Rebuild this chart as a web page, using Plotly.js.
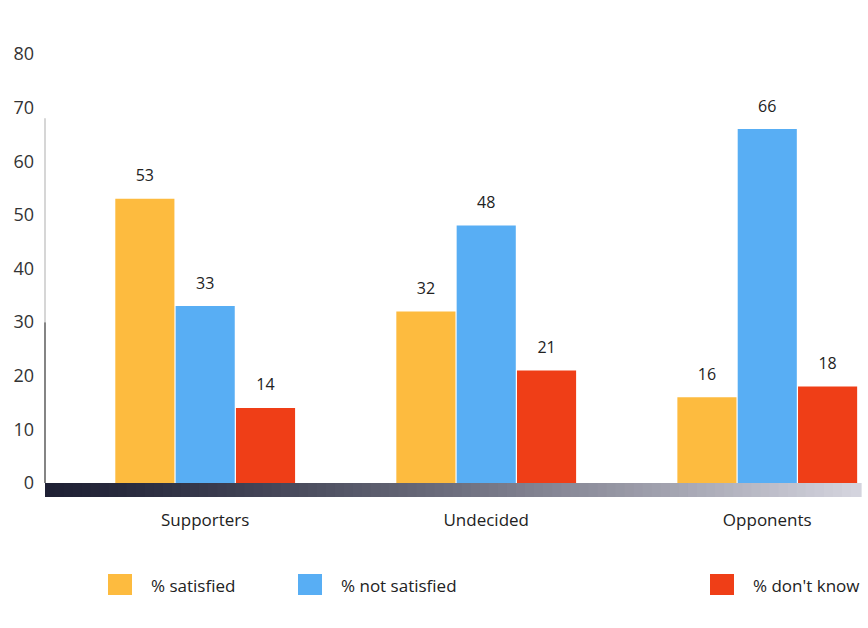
<!DOCTYPE html>
<html>
<head>
<meta charset="utf-8">
<script src="https://cdn.plot.ly/plotly-3.0.1.min.js"></script>
<style>html,body{margin:0;padding:0;background:#fff;}#chart{width:868px;height:628px;}</style>
</head>
<body>
<div id="chart"></div>
<script>
const categories = ['Supporters', 'Undecided', 'Opponents'];
const seriesNames = ['% satisfied', '% not satisfied', "% don't know"];
const satisfied = [53, 32, 16];
const notSatisfied = [33, 48, 66];
const dontKnow = [14, 21, 18];
const yTickValues = [0, 10, 20, 30, 40, 50, 60, 70, 80];

const colors = ['#FDBB3F', '#58AEF4', '#EF3E17'];
const seriesValues = [satisfied, notSatisfied, dontKnow];
const FONT = 'Open Sans, Noto Sans, sans-serif';

const W = 868, H = 628, ML = 45, MR = 8, MT = 54, MB = 145;
const PW = W - ML - MR, PH = H - MT - MB;
const px2x = p => (p - ML) / PW;
const px2y = p => (H - MB - p) / PH;

const traces = [];
seriesValues.forEach((vals, i) => {
  traces.push({
    type: 'bar', x: categories, y: vals, name: seriesNames[i],
    offsetgroup: String(i), alignmentgroup: 'a',
    marker: {color: colors[i]}, showlegend: false, hoverinfo: 'skip'
  });
});
seriesValues.forEach((vals, i) => {
  traces.push({
    type: 'scatter', mode: 'markers+text', x: categories, y: vals,
    text: vals.map(String), textposition: 'top center',
    textfont: {family: FONT, size: 16, color: '#222'},
    marker: {size: 20, opacity: 0, color: colors[i]},
    offsetgroup: String(i), alignmentgroup: 'a',
    showlegend: false, hoverinfo: 'skip', cliponaxis: false
  });
});

const shapes = [];
// gradient baseline
const N = 90;
const c0 = [30, 32, 52], c1 = [212, 212, 222];
for (let k = 0; k < N; k++) {
  const t = k / (N - 1);
  const c = c0.map((v, j) => Math.round(v + (c1[j] - v) * Math.pow(t, 1.2)));
  shapes.push({
    type: 'rect', xref: 'paper', yref: 'paper',
    x0: k / N, x1: (k + 1) / N + 0.002, y0: -14 / PH, y1: 0,
    fillcolor: `rgb(${c[0]},${c[1]},${c[2]})`, line: {width: 0}, layer: 'above'
  });
}
// y axis line
shapes.push({type: 'line', xref: 'paper', yref: 'y', x0: 0, x1: 0, y0: 0, y1: 30,
  line: {color: '#333', width: 1.2}, layer: 'below'});
shapes.push({type: 'line', xref: 'paper', yref: 'y', x0: 0, x1: 0, y0: 30, y1: 68,
  line: {color: '#bbb', width: 1.2}, layer: 'below'});

// legend
const legX = [108, 298, 710];
const annotations = [];
seriesNames.forEach((name, i) => {
  shapes.push({type: 'rect', xref: 'paper', yref: 'paper',
    x0: px2x(legX[i]), x1: px2x(legX[i] + 24), y0: px2y(595), y1: px2y(574),
    fillcolor: colors[i], line: {width: 0}});
  annotations.push({xref: 'paper', yref: 'paper', x: px2x(legX[i] + 41), y: px2y(585),
    xanchor: 'left', yanchor: 'middle', text: name, showarrow: false,
    font: {family: FONT, size: 17, color: '#222'}});
});

const layout = {
  width: W, height: H,
  margin: {l: ML, r: MR, t: MT, b: MB},
  paper_bgcolor: '#fff', plot_bgcolor: 'rgba(0,0,0,0)',
  barmode: 'group', bargap: 0.356, bargroupgap: 0.02,
  scattermode: 'group', scattergap: 0.356,
  showlegend: false,
  xaxis: {
    type: 'category', range: [-0.57, 2.33], showgrid: false, zeroline: false,
    showline: false, ticks: '', ticklabelstandoff: 25,
    tickfont: {family: FONT, size: 17, color: '#222'}, fixedrange: true
  },
  yaxis: {
    range: [0, 80], tickvals: yTickValues, showgrid: false, zeroline: false,
    showline: false, ticks: '', ticklabelstandoff: 10,
    tickfont: {family: FONT, size: 18, color: '#333'}, fixedrange: true
  },
  shapes: shapes, annotations: annotations
};

Plotly.newPlot('chart', traces, layout, {displayModeBar: false, staticPlot: true});
</script>
</body>
</html>
